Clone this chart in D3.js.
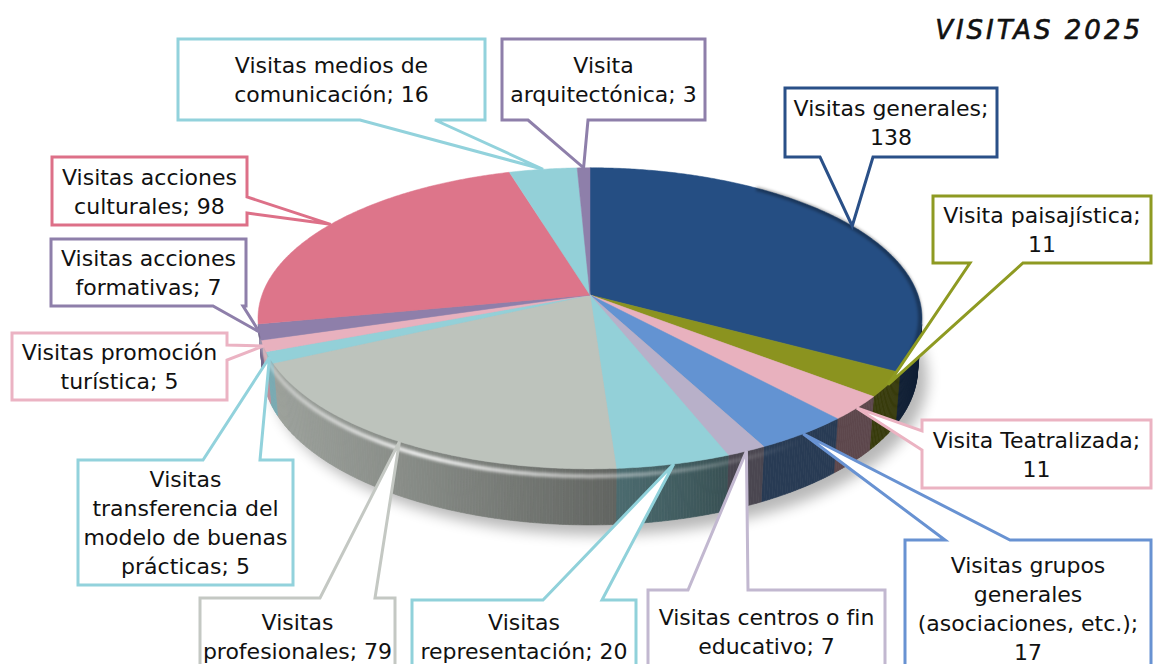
<!DOCTYPE html>
<html lang="es">
<head>
<meta charset="UTF-8">
<title>Visitas 2025</title>
<script src="https://d3js.org/d3.v7.min.js"></script>
<style>
  body { margin: 0; background: #fff; }
  svg { display: block; font-family: "DejaVu Sans", sans-serif; }
  .lbl { font-size: 22px; fill: #111; text-anchor: middle; }
  .title { font-size: 26px; font-style: italic; letter-spacing: 3px; text-anchor: end; fill: #111; stroke: #111; stroke-width: 0.6px; }
</style>
</head>
<body>
<script>
// data, clockwise from 12 o'clock
const categories = [
  "Visitas generales", "Visita paisajística", "Visita Teatralizada",
  "Visitas grupos generales (asociaciones, etc.)", "Visitas centros o fin educativo",
  "Visitas representación", "Visitas profesionales",
  "Visitas transferencia del modelo de buenas prácticas", "Visitas promoción turística",
  "Visitas acciones formativas", "Visitas acciones culturales",
  "Visitas medios de comunicación", "Visita arquitectónica"
];
const values = [138, 11, 11, 17, 7, 20, 79, 5, 5, 7, 98, 16, 3];
const sliceColors = ["#254E83", "#8B931F", "#E8B1BE", "#6393D2", "#B8B0C9", "#93D0D8",
  "#BDC3BC", "#93D0D8", "#E8B1BE", "#8E7FAA", "#DD758A", "#93D0D8", "#8E7FAA"];
const borderColors = ["#2A5088", "#8E9A22", "#EBB3C2", "#6892D2", "#C2B8D0", "#90D1DA",
  "#C4C8C3", "#92D2DC", "#EBB3C3", "#8E7FAA", "#DD7088", "#92D2DC", "#8E7FAA"];
const titleText = "VISITAS 2025";

// callout boxes: box rect, side of the pointer, pointer base, words per line break
const callouts = [
  { x: 785, y: 88,  w: 212, h: 69,  side: "bottom", b: [820, 873], breaks: [2] },
  { x: 933, y: 196, w: 218, h: 67,  side: "bottom", b: [970, 1023], breaks: [2] },
  { x: 922, y: 420, w: 229, h: 68,  side: "left",   b: [431, 450], breaks: [2] },
  { x: 905, y: 540, w: 246, h: 137, side: "top",    b: [945, 1010], breaks: [2, 3, 5] },
  { x: 648, y: 590, w: 237, h: 83,  side: "top",    b: [688, 748], breaks: [4] },
  { x: 412, y: 600, w: 224, h: 73,  side: "top",    b: [543, 602], breaks: [1] },
  { x: 200, y: 598, w: 195, h: 77,  side: "top",    b: [320, 375], breaks: [1] },
  { x: 78,  y: 460, w: 215, h: 125, side: "top",    b: [203, 260], breaks: [1, 3, 6] },
  { x: 12,  y: 333, w: 215, h: 67,  side: "right",  b: [345, 360], breaks: [2] },
  { x: 51,  y: 239, w: 195, h: 67,  side: "bottom", b: [213, 243], breaks: [2] },
  { x: 52,  y: 157, w: 195, h: 68,  side: "right",  b: [197, 213], breaks: [2] },
  { x: 178, y: 39,  w: 307, h: 81,  side: "bottom", b: [360, 435], breaks: [3] },
  { x: 502, y: 39,  w: 203, h: 81,  side: "bottom", b: [528, 588], breaks: [1] }
];

const width = 1155, height = 664;
const cx = 590, cy = 295, R = 328;
// perspective camera
const D = 5.77, sT = 0.448, cT = 0.894, depth = 0.172;

const xScale = d3.scaleLinear().domain([-1, 1]).range([cx - R, cx + R]);
const yScale = d3.scaleLinear().domain([-1, 1]).range([cy + R, cy - R]);

function proj(a, r, Y) {
  const X = r * Math.sin(a), Z = -r * Math.cos(a);
  const d = Z * cT + Y * sT;
  const k = D / (D - d);
  return [xScale(X * k), yScale((Y * cT - Z * sT) * k)];
}

const svg = d3.select("body").append("svg")
  .attr("width", width).attr("height", height);

const defs = svg.append("defs");
defs.append("filter").attr("id", "blur8").attr("x", "-20%").attr("y", "-20%")
  .attr("width", "140%").attr("height", "140%")
  .append("feGaussianBlur").attr("stdDeviation", 7);
defs.append("filter").attr("id", "blur2")
  .append("feGaussianBlur").attr("stdDeviation", 1.8);

const arcs = d3.pie().sort(null).value(d => d)(values);

const step = Math.PI / 360;
function arcPoints(a0, a1, r, Y) {
  const n = Math.max(2, Math.ceil((a1 - a0) / step));
  return d3.range(n + 1).map(i => proj(a0 + (a1 - a0) * i / n, r, Y));
}

// drop shadow
const shadowPts = arcPoints(0, 2 * Math.PI, 1.0, -depth).map(p => [p[0] + 10, p[1] + 10]);
svg.append("path")
  .attr("d", d3.line()(shadowPts) + "Z")
  .attr("fill", "#000").attr("opacity", 0.28)
  .attr("filter", "url(#blur8)");

// side wall (visible range only)
const visLo = 101.2 * Math.PI / 180, visHi = 258.8 * Math.PI / 180;
const sideG = svg.append("g");
arcs.forEach((s, i) => {
  const a0 = Math.max(s.startAngle, visLo), a1 = Math.min(s.endAngle, visHi);
  if (a1 <= a0) return;
  const n = Math.max(1, Math.ceil((a1 - a0) / step));
  const base = d3.rgb(sliceColors[i]);
  for (let j = 0; j < n; j++) {
    const t0 = a0 + (a1 - a0) * j / n, t1 = a0 + (a1 - a0) * (j + 1) / n;
    const tm = (t0 + t1) / 2;
    const f = 0.4 + 0.42 * Math.max(0, Math.cos(tm - 250 * Math.PI / 180));
    const col = d3.rgb(base.r * f, base.g * f, base.b * f);
    const pts = [proj(t0, 1, 0), proj(t1, 1, 0), proj(t1, 1, -depth), proj(t0, 1, -depth)];
    sideG.append("path")
      .attr("d", d3.line()(pts) + "Z")
      .attr("fill", col).attr("stroke", col).attr("stroke-width", 0.6);
  }
});

// rim highlight along the front edge
const hlGrad = defs.append("linearGradient").attr("id", "hl")
  .attr("gradientUnits", "userSpaceOnUse")
  .attr("x1", 260).attr("x2", 800).attr("y1", 0).attr("y2", 0);
hlGrad.append("stop").attr("offset", 0).attr("stop-color", "#fff").attr("stop-opacity", 0.35);
hlGrad.append("stop").attr("offset", 0.3).attr("stop-color", "#fff").attr("stop-opacity", 0.9);
hlGrad.append("stop").attr("offset", 0.7).attr("stop-color", "#fff").attr("stop-opacity", 0.4);
hlGrad.append("stop").attr("offset", 1).attr("stop-color", "#fff").attr("stop-opacity", 0);
svg.append("path")
  .attr("d", d3.line()(arcPoints(110 * Math.PI / 180, 256 * Math.PI / 180, 1, -0.022)))
  .attr("fill", "none").attr("stroke", "url(#hl)").attr("stroke-width", 4)
  .attr("filter", "url(#blur2)");

// top faces
const apex = proj(0, 0, 0);
svg.append("g").selectAll("path")
  .data(arcs)
  .join("path")
  .attr("d", s => d3.line()([apex, ...arcPoints(s.startAngle, s.endAngle, 1, 0)]) + "Z")
  .attr("fill", (s, i) => sliceColors[i])
  .attr("stroke", (s, i) => sliceColors[i])
  .attr("stroke-width", 0.5);

// soft shading along the back-right rim
svg.append("path")
  .attr("d", d3.line()(arcPoints(35 * Math.PI / 180, 118 * Math.PI / 180, 0.995, 0)))
  .attr("fill", "none").attr("stroke", "#000").attr("stroke-opacity", 0.35)
  .attr("stroke-width", 4).attr("filter", "url(#blur2)");

// callouts
function calloutPath(b, tip) {
  const x0 = b.x, y0 = b.y, x1 = b.x + b.w, y1 = b.y + b.h;
  const [p, q] = b.b;
  let pts;
  if (b.side === "top") pts = [[x0, y0], [p, y0], tip, [q, y0], [x1, y0], [x1, y1], [x0, y1]];
  else if (b.side === "right") pts = [[x0, y0], [x1, y0], [x1, p], tip, [x1, q], [x1, y1], [x0, y1]];
  else if (b.side === "bottom") pts = [[x0, y0], [x1, y0], [x1, y1], [q, y1], tip, [p, y1], [x0, y1]];
  else pts = [[x0, y0], [x1, y0], [x1, y1], [x0, y1], [x0, q], tip, [x0, p]];
  return d3.line()(pts) + "Z";
}

const lineH = 29;
const labelG = svg.append("g");
arcs.forEach((s, i) => {
  const b = callouts[i];
  const tip = proj((s.startAngle + s.endAngle) / 2, 1, 0);
  labelG.append("path")
    .attr("d", calloutPath(b, tip))
    .attr("fill", "#fff")
    .attr("stroke", borderColors[i])
    .attr("stroke-width", 3)
    .attr("stroke-linejoin", "miter");

  const words = (categories[i] + "; " + values[i]).split(" ");
  const cuts = [0, ...b.breaks, words.length];
  const lines = d3.range(cuts.length - 1).map(k => words.slice(cuts[k], cuts[k + 1]).join(" "));
  const midY = b.y + b.h / 2;
  const t = labelG.append("text").attr("class", "lbl");
  lines.forEach((ln, k) => {
    t.append("tspan")
      .attr("x", b.x + b.w / 2)
      .attr("y", midY + (k - (lines.length - 1) / 2) * lineH + 8)
      .text(ln);
  });
});

svg.append("text").attr("class", "title")
  .attr("x", 1143).attr("y", 39)
  .text(titleText);
</script>
</body>
</html>
